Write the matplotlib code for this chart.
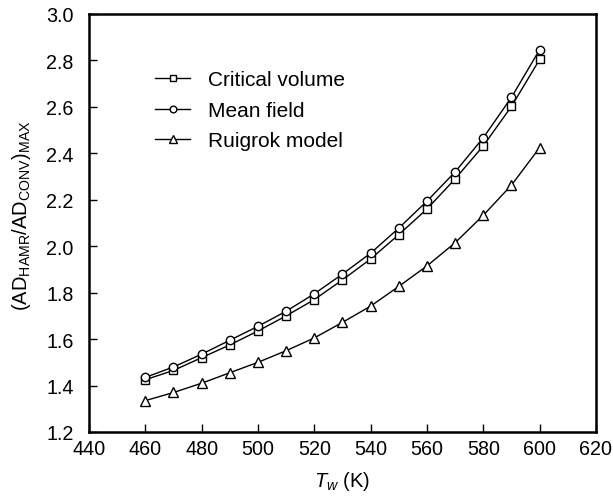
import matplotlib
matplotlib.use("Agg")
import matplotlib.pyplot as plt

plt.rcParams['font.family'] = ['Liberation Sans', 'DejaVu Sans']
plt.rcParams['mathtext.fontset'] = 'custom'
plt.rcParams['mathtext.rm'] = 'Liberation Sans'
plt.rcParams['mathtext.it'] = 'Liberation Sans:italic'

T = [460, 470, 480, 490, 500, 510, 520, 530, 540, 550, 560, 570, 580, 590, 600]
critical_volume = [1.425, 1.465, 1.52, 1.575, 1.635, 1.70, 1.77, 1.855, 1.945, 2.05, 2.16, 2.29, 2.432, 2.602, 2.804]
mean_field = [1.435, 1.48, 1.535, 1.595, 1.655, 1.72, 1.795, 1.88, 1.97, 2.078, 2.194, 2.32, 2.467, 2.641, 2.846]
ruigrok = [1.335, 1.37, 1.41, 1.455, 1.50, 1.55, 1.605, 1.672, 1.742, 1.827, 1.915, 2.015, 2.133, 2.263, 2.424]

fig = plt.figure(figsize=(6.13, 5.02), dpi=100)
ax = fig.add_axes([0.1452, 0.1375, 0.8270, 0.8327])

ms = 6
ax.plot(T, critical_volume, '-', color='black', lw=1.0, marker='s', ms=ms, mfc='white', mec='black', mew=1.0, label='Critical volume')
ax.plot(T, mean_field, '-', color='black', lw=1.0, marker='o', ms=ms, mfc='white', mec='black', mew=1.0, label='Mean field')
ax.plot(T, ruigrok, '-', color='black', lw=1.0, marker='^', ms=ms + 1.5, mfc='white', mec='black', mew=1.0, label='Ruigrok model')

ax.set_xlim(440, 620)
ax.set_ylim(1.2, 3.0)
ax.set_xticks(range(440, 621, 20))
ax.set_yticks([1.2, 1.4, 1.6, 1.8, 2.0, 2.2, 2.4, 2.6, 2.8, 3.0])
ax.set_yticklabels(['1.2', '1.4', '1.6', '1.8', '2.0', '2.2', '2.4', '2.6', '2.8', '3.0'])
ax.tick_params(direction='in', length=6, width=1.0, labelsize=14.2, top=False, right=False)
ax.tick_params(axis='x', pad=5)
ax.tick_params(axis='y', pad=11)
for s in ax.spines.values():
    s.set_linewidth(1.8)

ax.set_xlabel(r'$T_{w}$ (K)', fontsize=14.5, labelpad=8)
ax.set_ylabel(r'(AD$_{\mathrm{HAMR}}$/AD$_{\mathrm{CONV}}$)$_{\mathrm{MAX}}$', fontsize=14.5)
ax.yaxis.set_label_coords(-0.11, 0.52)

leg = ax.legend(loc='upper left', bbox_to_anchor=(0.13, 0.865), frameon=False, fontsize=15,
                handlelength=1.7, handletextpad=0.85, labelspacing=0.55, markerscale=0.8,
                borderaxespad=0, borderpad=0)

fig.savefig('out.png', dpi=100)
